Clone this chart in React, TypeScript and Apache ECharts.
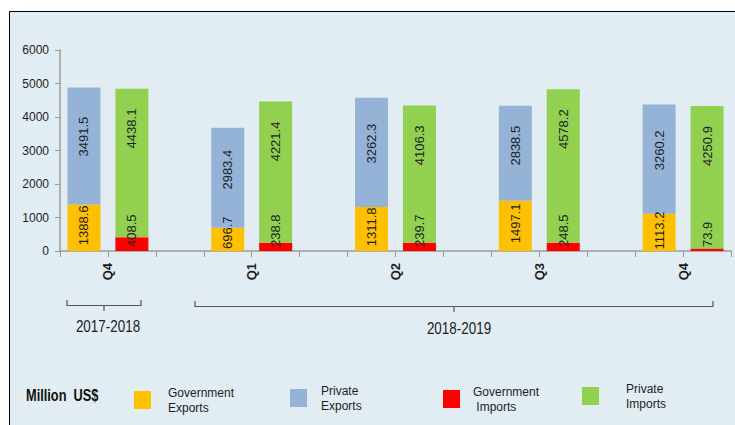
import React, { useEffect, useRef } from 'react';
import * as echarts from 'echarts';

// Quarterly trade, Million US$
const quarters = ['Q4', 'Q1', 'Q2', 'Q3', 'Q4'];
const fiscalYears = ['2017-2018', '2018-2019'];
const quarterYear = [0, 1, 1, 1, 1];
const govExports = [1388.6, 696.7, 1311.8, 1497.1, 1113.2];
const privExports = [3491.5, 2983.4, 3262.3, 2838.5, 3260.2];
const govImports = [408.5, 238.8, 239.7, 248.5, 73.9];
const privImports = [4438.1, 4221.4, 4106.3, 4578.2, 4250.9];

const seriesNames = ['Government Exports', 'Private Exports', 'Government Imports', 'Private Imports'];
const legendLabels = ['Government\nExports', 'Private\nExports', 'Government\n Imports', 'Private\nImports'];
const unitLabel = 'Million  US$';

const Y_MIN = 0;
const Y_MAX = 6000;
const Y_STEP = 1000;

const COLORS = ['#FFC000', '#95B3D7', '#FF0000', '#92D050'];
const BG = '#E1EDF3';
const AXIS = '#9A9A9A';
const TEXT = '#1E1E1E';
const FONT = "'Liberation Sans', Arial, sans-serif";

// Slots along the category axis: exports bar, imports bar, then a gap between quarters
type Kind = 'exp' | 'imp' | 'gap';
const slots: string[] = [];
const slotKind: Kind[] = [];
const slotQuarter: number[] = [];
quarters.forEach((q, i) => {
  const fy = fiscalYears[quarterYear[i]];
  slots.push(`${fy} ${q} Exports`); slotKind.push('exp'); slotQuarter.push(i);
  slots.push(`${fy} ${q} Imports`); slotKind.push('imp'); slotQuarter.push(i);
  if (i < quarters.length - 1) { slots.push(`gap ${i}`); slotKind.push('gap'); slotQuarter.push(-1); }
});

// Boundaries between slots (n + 1 of them); quarter names sit between each exports/imports pair
const boundaryLabels: string[] = Array.from({ length: slots.length + 1 }, () => '');
slotKind.forEach((k, s) => { if (k === 'exp') boundaryLabels[s + 1] = quarters[slotQuarter[s]]; });

const pick = (kind: Kind, values: number[]) =>
  slots.map((_, s) => (slotKind[s] === kind ? values[slotQuarter[s]] : '-'));

const fmt = (p: any) => Number(p.value).toFixed(1);
const baseLabel = { show: true, rotate: 90, fontFamily: FONT, fontSize: 13, color: TEXT, formatter: fmt };

// Condensed-looking caption text
const caption = (text: string, x: number, y: number, align: string, size: number, scaleX: number, bold = false) => ({
  type: 'text',
  silent: true,
  x,
  y,
  scaleX,
  style: {
    text, x: 0, y: 0, align, verticalAlign: 'middle',
    fontFamily: FONT, fontSize: size, fontWeight: bold ? 'bold' : 'normal', fill: bold ? '#111' : TEXT,
  },
});

export default function App() {
  const ref = useRef<HTMLDivElement>(null);

  useEffect(() => {
    if (!ref.current) return;
    const chart = echarts.init(ref.current, null, { renderer: 'svg' });

    // short government-export segments keep their label anchored at the bar's foot
    const govExpData = pick('exp', govExports).map((v) =>
      typeof v === 'number' && v < 1000
        ? { value: v, label: { position: 'insideBottom', distance: 2, align: 'left', verticalAlign: 'middle' } }
        : v
    );

    const option: any = {
      animation: false,
      backgroundColor: '#ffffff',
      grid: { left: 60, right: 4, top: 50, bottom: 174 },
      xAxis: [
        {
          type: 'category',
          position: 'bottom',
          data: slots,
          axisLine: { lineStyle: { color: AXIS, width: 1.5 } },
          axisTick: { show: true, interval: 0, length: 6, lineStyle: { color: AXIS } },
          axisLabel: { show: false },
          splitLine: { show: false },
        },
        {
          type: 'category',
          position: 'bottom',
          boundaryGap: false,
          data: boundaryLabels,
          axisLine: { show: false },
          axisTick: { show: false },
          axisLabel: {
            interval: 0,
            rotate: 90,
            margin: 12,
            fontFamily: FONT,
            fontWeight: 'bold',
            fontSize: 13,
            color: TEXT,
          },
          splitLine: { show: false },
        },
      ],
      yAxis: {
        type: 'value',
        min: Y_MIN,
        max: Y_MAX,
        interval: Y_STEP,
        axisLine: { show: true, lineStyle: { color: AXIS, width: 1.5 } },
        axisTick: { show: true, length: 5, lineStyle: { color: AXIS } },
        axisLabel: {
          margin: 11, fontFamily: FONT, fontSize: 12, color: TEXT,
          formatter: (v: number) => String(v),
        },
        splitLine: { show: false },
      },
      legend: seriesNames.map((name, i) => ({
        data: [name],
        left: [134, 290, 443, 582][i],
        top: [385, 383, 384, 381][i],
        padding: 0,
        itemWidth: 17,
        itemHeight: 18,
        icon: 'rect',
        selectedMode: false,
        formatter: () => legendLabels[i],
        textStyle: {
          fontFamily: FONT,
          fontSize: 12,
          lineHeight: 15,
          color: TEXT,
          padding: [0, 0, 0, [12, 9, 8, 22][i]],
        },
      })),
      series: [
        {
          name: seriesNames[0],
          type: 'bar',
          stack: 'all',
          barWidth: 33,
          itemStyle: { color: COLORS[0] },
          label: { ...baseLabel, position: ['50%', '45%'], align: 'center', verticalAlign: 'middle' },
          data: govExpData,
        },
        {
          name: seriesNames[1],
          type: 'bar',
          stack: 'all',
          barWidth: 33,
          itemStyle: { color: COLORS[1] },
          label: { ...baseLabel, position: ['50%', '42%'], align: 'center', verticalAlign: 'middle' },
          data: pick('exp', privExports),
        },
        {
          name: seriesNames[2],
          type: 'bar',
          stack: 'all',
          barWidth: 33,
          itemStyle: { color: COLORS[2] },
          label: { ...baseLabel, position: 'insideBottom', distance: 4, align: 'left', verticalAlign: 'middle' },
          data: pick('imp', govImports),
        },
        {
          name: seriesNames[3],
          type: 'bar',
          stack: 'all',
          barWidth: 33,
          itemStyle: { color: COLORS[3] },
          label: { ...baseLabel, position: ['50%', 20], align: 'right', verticalAlign: 'middle' },
          data: pick('imp', privImports),
        },
      ],
      graphic: [
        {
          type: 'rect',
          silent: true,
          z: -10,
          shape: { x: 9.5, y: 11.5, width: 800, height: 500 },
          style: { fill: BG, stroke: '#000000', lineWidth: 1 },
        },
        // Fiscal-year brackets under the quarter labels
        {
          type: 'polyline',
          silent: true,
          shape: { points: [[67, 300], [67, 305.5], [141, 305.5], [141, 300]] },
          style: { stroke: '#555', lineWidth: 1.2, fill: null },
        },
        {
          type: 'line',
          silent: true,
          shape: { x1: 104, y1: 305.5, x2: 104, y2: 311 },
          style: { stroke: '#555', lineWidth: 1.2 },
        },
        {
          type: 'polyline',
          silent: true,
          shape: { points: [[195, 301], [195, 306.5], [713, 306.5], [713, 301]] },
          style: { stroke: '#555', lineWidth: 1.2, fill: null },
        },
        {
          type: 'line',
          silent: true,
          shape: { x1: 454, y1: 306.5, x2: 454, y2: 312 },
          style: { stroke: '#555', lineWidth: 1.2 },
        },
        caption(fiscalYears[0], 108, 327, 'center', 16, 0.84),
        caption(fiscalYears[1], 459, 329, 'center', 16, 0.84),
        caption(unitLabel, 26, 395, 'left', 16, 0.8, true),
      ],
    };

    chart.setOption(option);
    return () => chart.dispose();
  }, []);

  return (
    <div
      ref={ref}
      style={{ position: 'absolute', left: 0, top: 0, width: 735, height: 425 }}
    />
  );
}
